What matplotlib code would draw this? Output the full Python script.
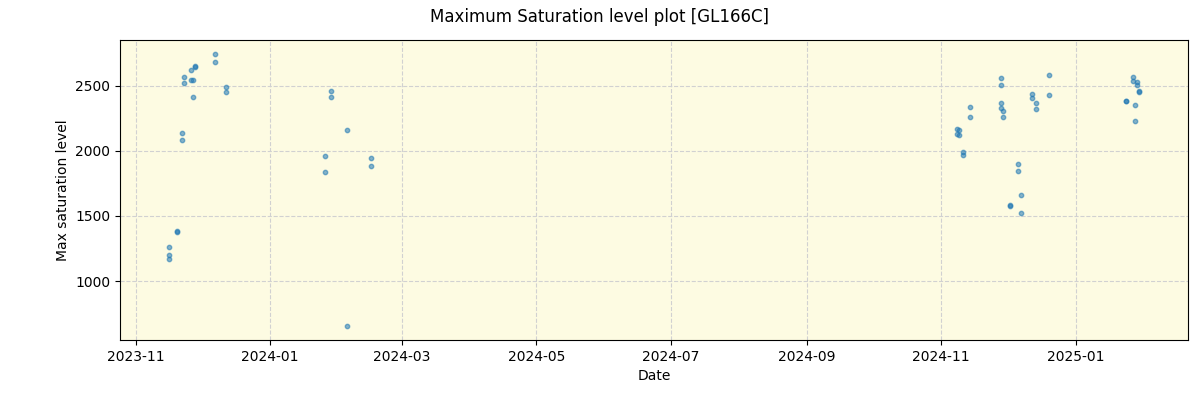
#!/usr/bin/env python3

import matplotlib

matplotlib.use("Agg")
import matplotlib.dates as mdates
import numpy as np
import pandas as pd
from matplotlib import pyplot as plt

title = "Maximum Saturation level plot [GL166C]"

dates = [
    "2023-11-16", "2023-11-16", "2023-11-16",
    "2023-11-20", "2023-11-20",
    "2023-11-22", "2023-11-22",
    "2023-11-23", "2023-11-23",
    "2023-11-26", "2023-11-26", "2023-11-27", "2023-11-27",
    "2023-11-28", "2023-11-28",
    "2023-12-07", "2023-12-07",
    "2023-12-12", "2023-12-12",
    "2024-01-26", "2024-01-26",
    "2024-01-29", "2024-01-29",
    "2024-02-05", "2024-02-05",
    "2024-02-16", "2024-02-16",
    "2024-11-08", "2024-11-08", "2024-11-09", "2024-11-09",
    "2024-11-11", "2024-11-11",
    "2024-11-14", "2024-11-14",
    "2024-11-28", "2024-11-28", "2024-11-28", "2024-11-28",
    "2024-11-29", "2024-11-29",
    "2024-12-02", "2024-12-02",
    "2024-12-06", "2024-12-06",
    "2024-12-07", "2024-12-07",
    "2024-12-12", "2024-12-12",
    "2024-12-14", "2024-12-14",
    "2024-12-20", "2024-12-20",
    "2025-01-24", "2025-01-24",
    "2025-01-27", "2025-01-27",
    "2025-01-28", "2025-01-28",
    "2025-01-29", "2025-01-29",
    "2025-01-30", "2025-01-30",
]

max_sat = [
    1259, 1198, 1167,
    1385, 1375,
    2136, 2082,
    2569, 2521,
    2621, 2544, 2544, 2413,
    2649, 2645,
    2746, 2682,
    2492, 2451,
    1959, 1836,
    2459, 2413,
    2159, 652,
    1944, 1882,
    2167, 2131, 2159, 2121,
    1992, 1967,
    2336, 2259,
    2559, 2505, 2367, 2328,
    2305, 2259,
    1584, 1574,
    1898, 1844,
    1659, 1520,
    2436, 2405,
    2367, 2321,
    2582, 2428,
    2385, 2380,
    2569, 2538,
    2351, 2228,
    2531, 2508,
    2458, 2453,
]


def main():
    xs = pd.to_datetime(dates)
    ys = np.array(max_sat)

    fig, ax = plt.subplots(figsize=(12, 4), dpi=100)
    fig.subplots_adjust(left=0.1, right=0.99, top=0.9, bottom=0.15)
    ax.set_facecolor("#fdfbe2")
    ax.scatter(xs, ys, s=10, alpha=0.55, zorder=3)

    ax.xaxis.set_major_locator(mdates.MonthLocator(bymonth=[1, 3, 5, 7, 9, 11]))
    ax.xaxis.set_major_formatter(mdates.DateFormatter("%Y-%m"))
    ax.grid(color="0.82", linestyle="--", zorder=0)
    ax.set_axisbelow(True)

    ax.set_xlabel("Date")
    ax.set_ylabel("Max saturation level")
    fig.suptitle(title)
    fig.savefig("out.png")
    plt.close()


if __name__ == "__main__":
    main()
